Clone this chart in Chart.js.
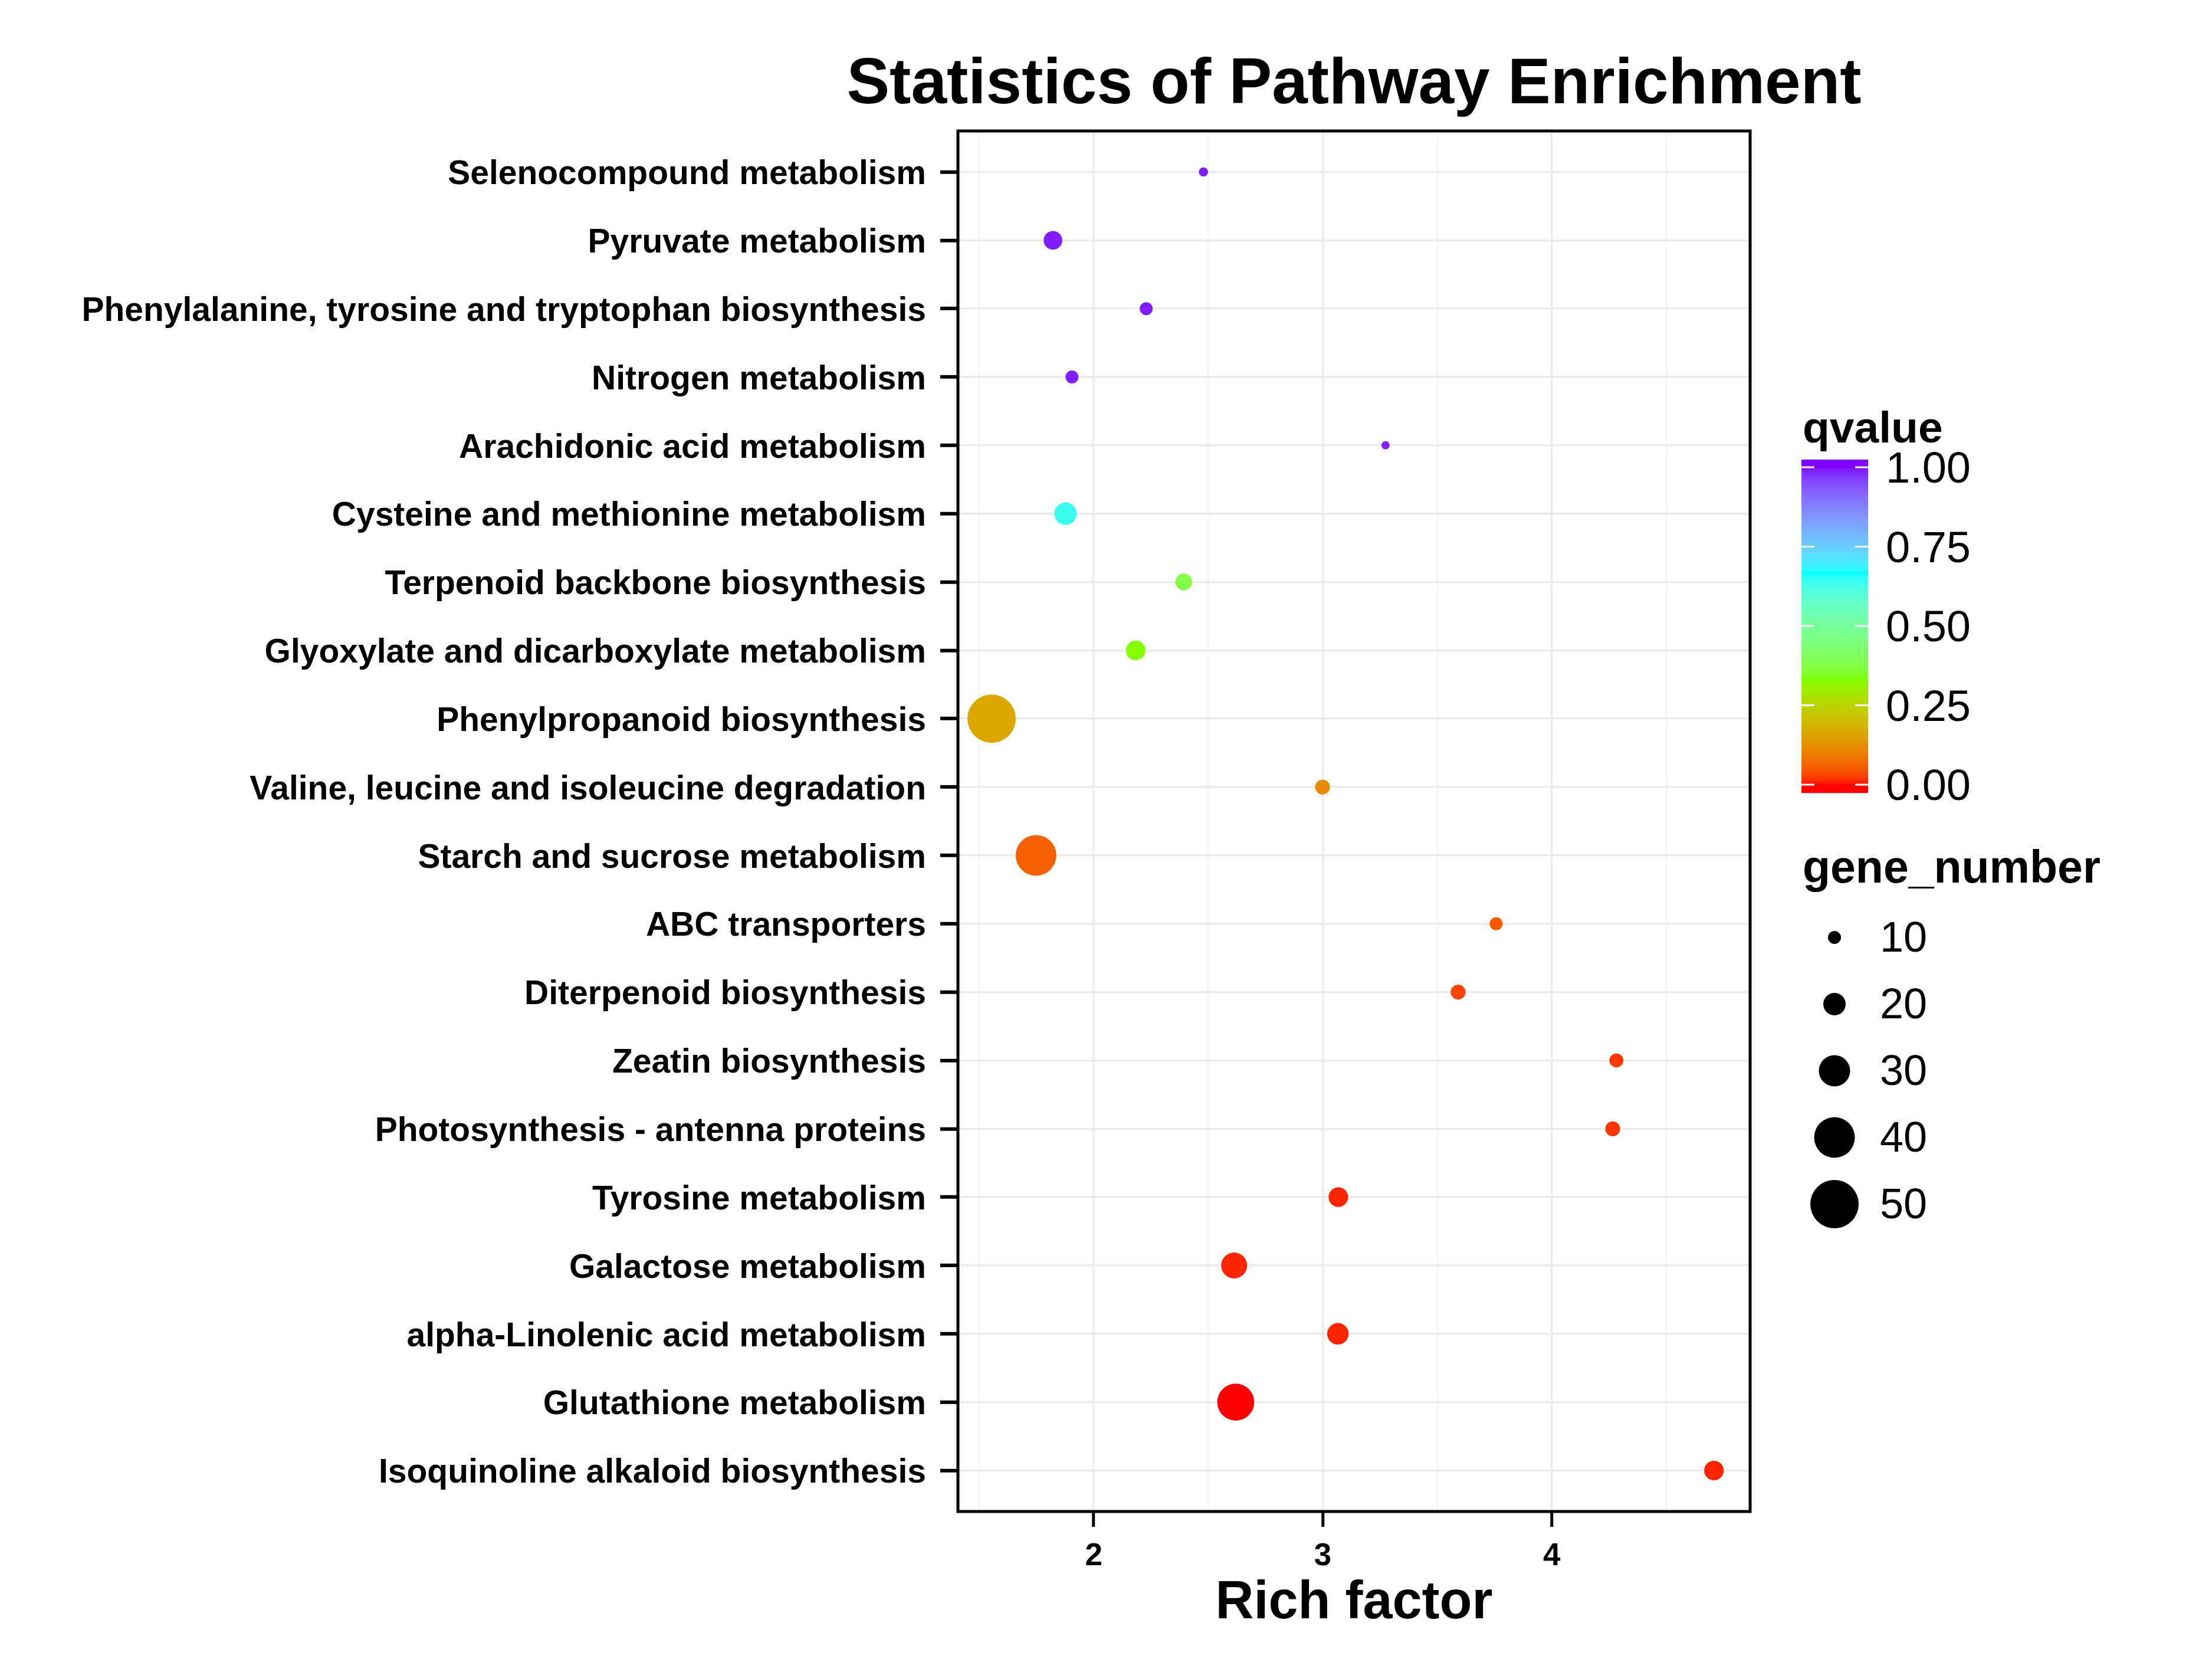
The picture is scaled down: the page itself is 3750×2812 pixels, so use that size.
<!DOCTYPE html>
<html>
<head>
<meta charset="utf-8">
<style>
  html, body { margin: 0; padding: 0; background: #ffffff; }
  #wrap { width: 3750px; height: 2812px; }
</style>
<script src="https://cdn.jsdelivr.net/npm/chart.js@4.4.1/dist/chart.umd.min.js"></script>
</head>
<body>
<div id="wrap"><canvas id="c" width="3750" height="2812"></canvas></div>
<script>
// ---------------- DATA ----------------
const categories = [
  "Selenocompound metabolism",
  "Pyruvate metabolism",
  "Phenylalanine, tyrosine and tryptophan biosynthesis",
  "Nitrogen metabolism",
  "Arachidonic acid metabolism",
  "Cysteine and methionine metabolism",
  "Terpenoid backbone biosynthesis",
  "Glyoxylate and dicarboxylate metabolism",
  "Phenylpropanoid biosynthesis",
  "Valine, leucine and isoleucine degradation",
  "Starch and sucrose metabolism",
  "ABC transporters",
  "Diterpenoid biosynthesis",
  "Zeatin biosynthesis",
  "Photosynthesis - antenna proteins",
  "Tyrosine metabolism",
  "Galactose metabolism",
  "alpha-Linolenic acid metabolism",
  "Glutathione metabolism",
  "Isoquinoline alkaloid biosynthesis"
];
const richFactor = [2.479, 1.822, 2.229, 1.905, 3.274, 1.877, 2.393, 2.183, 1.554, 2.999,
                    1.748, 3.757, 3.591, 4.282, 4.266, 3.068, 2.613, 3.066, 2.620, 4.708];
const geneNumber = [6, 16, 10, 10, 5, 20, 14, 17, 50, 12,
                    40, 10, 12, 11, 12, 17, 24, 19, 36, 17];
const qValue     = [0.99, 0.99, 0.99, 0.99, 0.99, 0.64, 0.38, 0.33, 0.16, 0.12,
                    0.06, 0.05, 0.03, 0.02, 0.02, 0.01, 0.01, 0.01, 0.00, 0.01];

const xTicks = [2, 3, 4];
const xMinorTicks = [1.5, 2.5, 3.5, 4.5];
const qTicks = [0, 0.25, 0.5, 0.75, 1];
const sizeBreaks = [10, 20, 30, 40, 50];

// ---------------- STYLE SCALES ----------------
const sizeDiameters = [22, 38, 53, 69, 82];   // pixel diameters for sizeBreaks
function diameterFor(n) {
  if (n <= sizeBreaks[0]) return sizeDiameters[0] - (sizeBreaks[0] - n) * 1.6;
  for (let i = 1; i < sizeBreaks.length; i++) {
    if (n <= sizeBreaks[i]) {
      const t = (n - sizeBreaks[i-1]) / (sizeBreaks[i] - sizeBreaks[i-1]);
      return sizeDiameters[i-1] + t * (sizeDiameters[i] - sizeDiameters[i-1]);
    }
  }
  const L = sizeBreaks.length - 1;
  return sizeDiameters[L] + (n - sizeBreaks[L]) * 1.3;
}

// Colour gradient (rainbow(4) interpolated in CIELAB, like ggplot2 gradientn)
const gradColors = ['#FF0000', '#80FF00', '#00FFFF', '#8000FF'];
function hexToRgb(h) { return [parseInt(h.substr(1,2),16), parseInt(h.substr(3,2),16), parseInt(h.substr(5,2),16)]; }
function toLin(c) { c /= 255; return c <= 0.04045 ? c / 12.92 : Math.pow((c + 0.055) / 1.055, 2.4); }
function fromLin(c) { const v = c <= 0.0031308 ? 12.92 * c : 1.055 * Math.pow(c, 1 / 2.4) - 0.055; return Math.max(0, Math.min(255, Math.round(v * 255))); }
const Xn = 0.95047, Yn = 1.0, Zn = 1.08883;
function f(t) { return t > 216/24389 ? Math.cbrt(t) : (24389/27 * t + 16) / 116; }
function finv(t) { return t*t*t > 216/24389 ? t*t*t : (116 * t - 16) / (24389/27); }
function rgbToLab(rgb) {
  const r = toLin(rgb[0]), g = toLin(rgb[1]), b = toLin(rgb[2]);
  const X = 0.4124564*r + 0.3575761*g + 0.1804375*b;
  const Y = 0.2126729*r + 0.7151522*g + 0.0721750*b;
  const Z = 0.0193339*r + 0.1191920*g + 0.9503041*b;
  const fx = f(X/Xn), fy = f(Y/Yn), fz = f(Z/Zn);
  return [116*fy - 16, 500*(fx - fy), 200*(fy - fz)];
}
function labToRgb(lab) {
  const fy = (lab[0] + 16) / 116, fx = fy + lab[1]/500, fz = fy - lab[2]/200;
  const X = Xn*finv(fx), Y = Yn*finv(fy), Z = Zn*finv(fz);
  const r =  3.2404542*X - 1.5371385*Y - 0.4985314*Z;
  const g = -0.9692660*X + 1.8760108*Y + 0.0415560*Z;
  const b =  0.0556434*X - 0.2040259*Y + 1.0572252*Z;
  return [fromLin(Math.max(0,r)), fromLin(Math.max(0,g)), fromLin(Math.max(0,b))];
}
const gradLabs = gradColors.map(h => rgbToLab(hexToRgb(h)));
function colorFor(q) {
  q = Math.max(0, Math.min(1, q));
  const seg = gradLabs.length - 1;
  let i = Math.min(seg - 1, Math.floor(q * seg));
  const t = q * seg - i;
  const a = gradLabs[i], b = gradLabs[i+1];
  const rgb = labToRgb([a[0] + (b[0]-a[0])*t, a[1] + (b[1]-a[1])*t, a[2] + (b[2]-a[2])*t]);
  return 'rgb(' + rgb.join(',') + ')';
}

const FONT = '"Liberation Sans", Arial, Helvetica, sans-serif';

// ---------------- DECORATION PLUGIN (title, border, legends) ----------------
const decor = {
  id: 'decor',
  afterDraw(chart) {
    const ctx = chart.ctx;
    const a = chart.chartArea;
    ctx.save();
    // panel border
    ctx.strokeStyle = '#000';
    ctx.lineWidth = 5;
    ctx.strokeRect(a.left, a.top, a.right - a.left, a.bottom - a.top);

    // title
    ctx.fillStyle = '#000';
    ctx.textAlign = 'center';
    ctx.textBaseline = 'alphabetic';
    ctx.font = 'bold 109px ' + FONT;
    ctx.fillText('Statistics of Pathway Enrichment', (a.left + a.right) / 2, 175);

    // x-axis title
    ctx.font = 'bold 90px ' + FONT;
    ctx.fillText('Rich factor', (a.left + a.right) / 2, 2743);

    // qvalue legend
    ctx.textAlign = 'left';
    ctx.font = 'bold 75px ' + FONT;
    ctx.fillText('qvalue', 3056, 750);
    const barL = 3054, barR = 3167, barTop = 779, barBot = 1344;
    const y0 = 1330, y1 = 792; // pixel of q=0 and q=1
    for (let y = barTop; y < barBot; y++) {
      const q = (y0 - (y + 0.5)) / (y0 - y1);
      ctx.fillStyle = colorFor(q);
      ctx.fillRect(barL, y, barR - barL, 1.2);
    }
    ctx.strokeStyle = '#ffffff';
    ctx.lineWidth = 3;
    ctx.font = '74px ' + FONT;
    ctx.textBaseline = 'middle';
    qTicks.forEach(q => {
      const y = y0 - q * (y0 - y1);
      ctx.beginPath();
      ctx.moveTo(barL, y); ctx.lineTo(barL + 22, y);
      ctx.moveTo(barR - 22, y); ctx.lineTo(barR, y);
      ctx.stroke();
      ctx.fillStyle = '#000';
      ctx.fillText(q.toFixed(2), 3197, y + 6);
    });

    // gene_number legend
    ctx.textBaseline = 'alphabetic';
    ctx.font = 'bold 77px ' + FONT;
    ctx.fillText('gene_number', 3056, 1496);
    ctx.font = '72px ' + FONT;
    ctx.textBaseline = 'middle';
    const sizeY = [1589, 1702, 1815, 1928, 2041];
    sizeBreaks.forEach((n, i) => {
      ctx.fillStyle = '#000';
      ctx.beginPath();
      ctx.arc(3110, sizeY[i], diameterFor(n) / 2, 0, Math.PI * 2);
      ctx.fill();
      ctx.fillText(String(n), 3187, sizeY[i] + 4);
    });
    ctx.restore();
  }
};

// ---------------- CHART ----------------
const points = categories.map((c, i) => ({ x: richFactor[i], y: i }));

new Chart(document.getElementById('c'), {
  type: 'scatter',
  data: {
    datasets: [{
      data: points,
      pointStyle: 'circle',
      pointRadius: ctx => diameterFor(geneNumber[ctx.dataIndex]) / 2,
      pointHoverRadius: ctx => diameterFor(geneNumber[ctx.dataIndex]) / 2,
      pointBackgroundColor: ctx => colorFor(qValue[ctx.dataIndex]),
      pointBorderWidth: 0,
      borderWidth: 0
    }]
  },
  options: {
    responsive: false,
    animation: false,
    devicePixelRatio: 1,
    layout: { padding: { top: 222, right: 783, left: 0, bottom: 0 } },
    plugins: { legend: { display: false }, tooltip: { enabled: false }, title: { display: false } },
    scales: {
      x: {
        type: 'linear',
        min: 1.407, max: 4.866,
        afterBuildTicks: s => { s.ticks = xMinorTicks.concat(xTicks).sort((p, q) => p - q).map(v => ({ value: v })); },
        afterFit: s => { s.height = 250; },
        ticks: {
          autoSkip: false,
          maxRotation: 0,
          padding: 19,
          color: '#000',
          font: { family: FONT, size: 53, weight: 'bold' },
          callback: v => (xTicks.includes(v) ? String(v) : '')
        },
        grid: {
          drawOnChartArea: true,
          color: ctx => (xTicks.includes(ctx.tick && ctx.tick.value) ? '#EBEBEB' : '#F2F2F2'),
          lineWidth: ctx => (xTicks.includes(ctx.tick && ctx.tick.value) ? 3.5 : 2),
          tickLength: 26,
          tickColor: ctx => (xTicks.includes(ctx.tick && ctx.tick.value) ? '#000' : 'rgba(0,0,0,0)'),
          tickWidth: 5
        },
        border: { display: false }
      },
      y: {
        type: 'linear',
        reverse: true,
        min: -0.6, max: categories.length - 1 + 0.6,
        afterBuildTicks: s => { s.ticks = categories.map((c, i) => ({ value: i })); },
        afterFit: s => { s.width = 1624; },
        ticks: {
          autoSkip: false,
          padding: 24,
          labelOffset: 5,
          color: '#000',
          font: { family: FONT, size: 57, weight: 'bold' },
          callback: v => categories[v]
        },
        grid: {
          color: '#EBEBEB',
          lineWidth: 3.5,
          tickLength: 30,
          tickColor: '#000',
          tickWidth: 6
        },
        border: { display: false }
      }
    }
  },
  plugins: [decor]
});
</script>
</body>
</html>
